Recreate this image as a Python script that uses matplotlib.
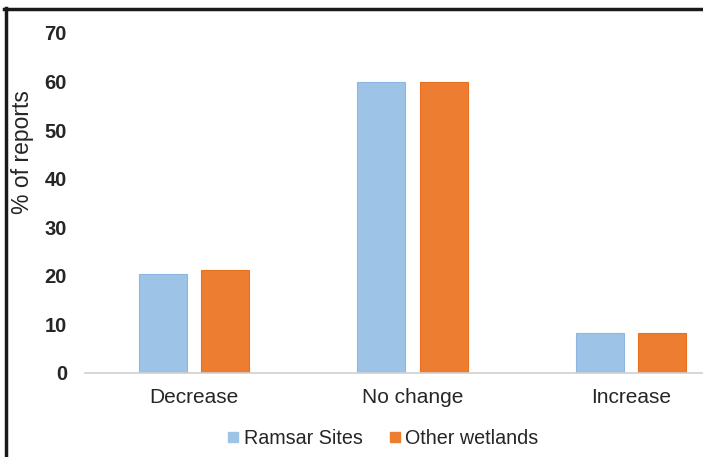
import numpy as np
import matplotlib
matplotlib.use("Agg")
from matplotlib import pyplot as plt
from matplotlib.lines import Line2D

categories = ["Decrease", "No change", "Increase"]
ramsar = [20.4, 60.0, 8.2]
other = [21.2, 60.0, 8.2]
series_names = ["Ramsar Sites", "Other wetlands"]
yticks = [0, 10, 20, 30, 40, 50, 60, 70]

blue = "#9DC3E6"
orange = "#ED7D31"
text_col = "#262626"

plt.rcParams["font.family"] = ["Liberation Sans", "DejaVu Sans"]

fig = plt.figure(figsize=(7.03, 4.57), dpi=100)
# axes runs off the right edge of the figure, as in the cropped chart
ax = fig.add_axes([85 / 703, 84 / 457, 655 / 703, 340 / 457])

x = np.arange(len(categories))
w = 0.22
off = 0.143
ax.bar(x - off, ramsar, width=w, color=blue, edgecolor="#8DB7E0", linewidth=0.8)
ax.bar(x + off, other, width=w, color=orange, edgecolor="#E8701F", linewidth=0.8)

ax.set_xlim(-0.5, 2.5)
ax.set_ylim(0, 70)
ax.set_yticks(yticks)
ax.set_yticklabels([str(t) for t in yticks], fontsize=14.5, fontweight="bold", color=text_col)
ax.set_xticks(x)
ax.set_xticklabels(categories, fontsize=15, color=text_col)
ax.tick_params(axis="y", length=0, pad=13)
ax.tick_params(axis="x", length=0, pad=11)

for s in ["top", "right", "left"]:
    ax.spines[s].set_visible(False)
ax.spines["bottom"].set_color("#D0D0D0")
ax.spines["bottom"].set_linewidth(1.2)

fig.text(22 / 703, 1 - 152 / 457, "% of reports", rotation=90, ha="center", va="center",
         fontsize=16.5, color=text_col)

handles = [Line2D([], [], marker="s", linestyle="none", markersize=7.5, color=blue),
           Line2D([], [], marker="s", linestyle="none", markersize=7.5, color=orange)]
fig.legend(handles, series_names, loc="center", bbox_to_anchor=(381 / 703, 1 - 438 / 457),
           ncol=2, frameon=False, fontsize=14.2, handletextpad=0.05, columnspacing=1.1,
           handlelength=1.0, labelcolor=text_col)

# frame lines on the left and top edges
fig.add_artist(Line2D([5.5 / 703, 5.5 / 703], [0, 1 - 8 / 457], color="#1a1a1a", linewidth=2.5,
                      transform=fig.transFigure))
fig.add_artist(Line2D([4.3 / 703, 1], [1 - 8.5 / 457, 1 - 8.5 / 457], color="#1a1a1a", linewidth=2.5,
                      transform=fig.transFigure))

fig.savefig("out.png", dpi=100)
